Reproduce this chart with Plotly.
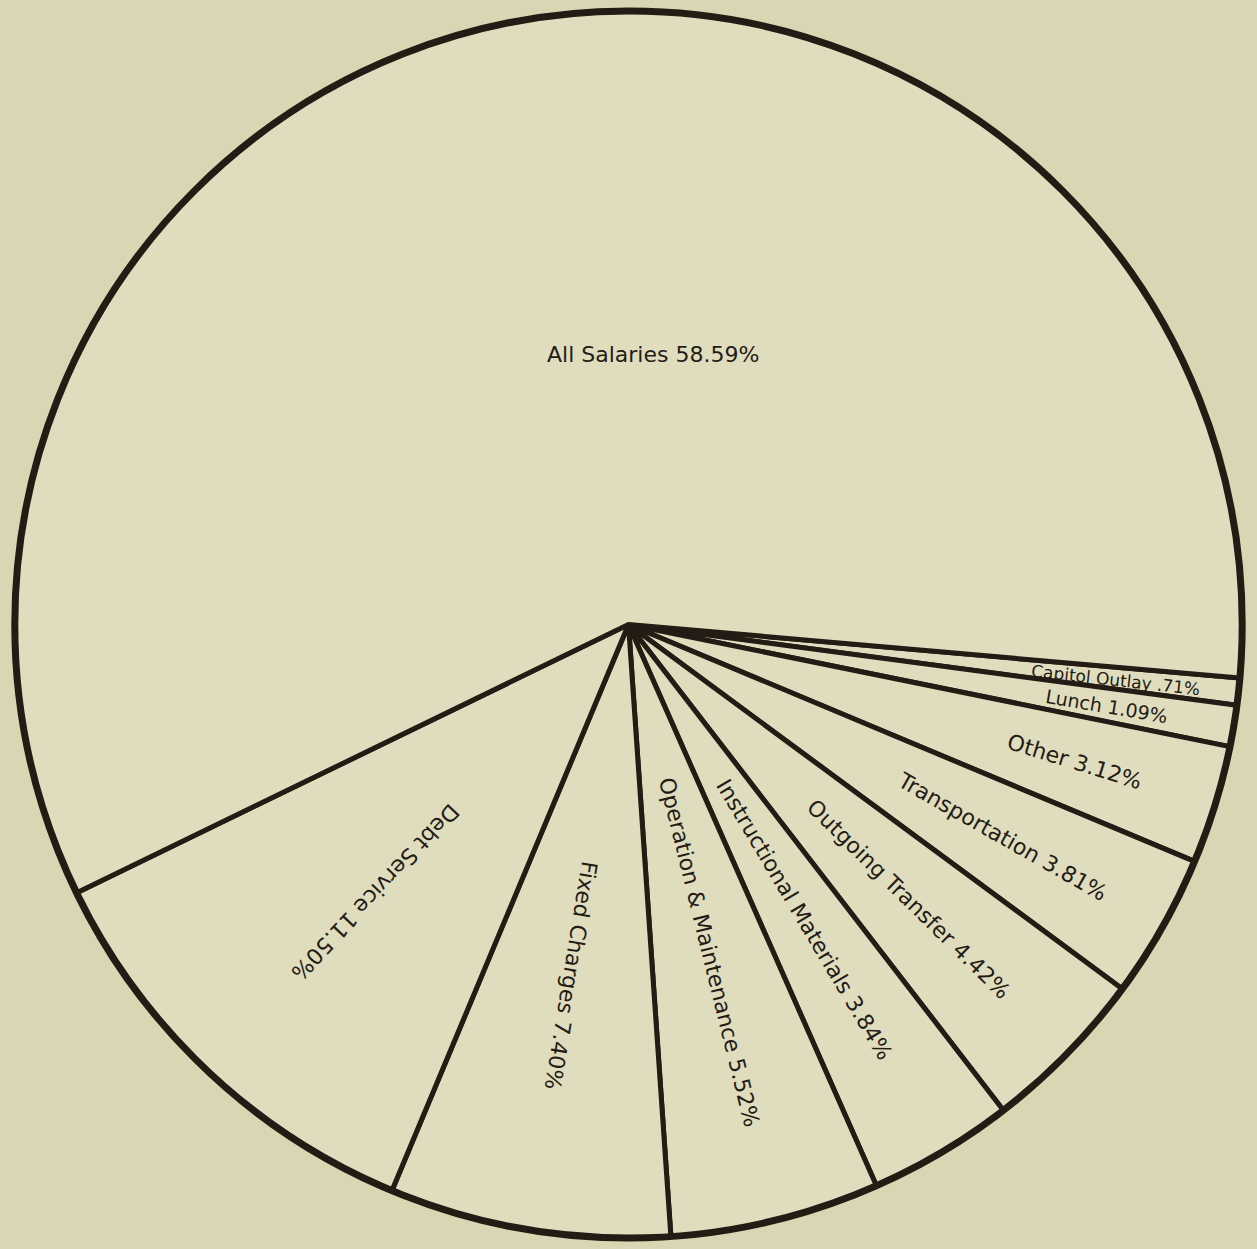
import math
import plotly.graph_objects as go

labels = ["Capitol Outlay", "Lunch", "Other", "Transportation", "Outgoing Transfer",
          "Instructional Materials", "Operation & Maintenance", "Fixed Charges",
          "Debt Service", "All Salaries"]
values = [0.71, 1.09, 3.12, 3.81, 4.42, 3.84, 5.52, 7.40, 11.50, 58.59]
pct_text = [".71%", "1.09%", "3.12%", "3.81%", "4.42%", "3.84%", "5.52%", "7.40%", "11.50%", "58.59%"]

W, H = 1257, 1249
M = dict(l=15, r=15, t=3, b=3)
ROT = 95
bg = "#d9d7b3"
fill = "#dfddbd"
ink = "#241b15"
FONT = "DejaVu Sans, Liberation Sans, Arial, sans-serif"

fig = go.Figure()
fig.add_trace(go.Pie(
    labels=labels, values=values, sort=False, direction="clockwise", rotation=ROT,
    textinfo="none",
    marker=dict(colors=[fill] * len(values), line=dict(color=ink, width=5)),
    showlegend=False, hoverinfo="label+percent",
))
# heavier outer rim
fig.add_trace(go.Pie(
    labels=["rim"], values=[1], sort=False, textinfo="none",
    marker=dict(colors=["rgba(0,0,0,0)"], line=dict(color=ink, width=7)),
    showlegend=False, hoverinfo="skip",
))

# label placement derived from the slice angles
pw = W - M["l"] - M["r"]
ph = H - M["t"] - M["b"]
R = min(pw, ph) / 2
total = sum(values)
start = 90 - ROT  # math angle (deg) of the first slice edge
cum = 0.0
radii = [0.80, 0.79, 0.76, 0.70, 0.64, 0.56, 0.55, 0.58, 0.60, 0.44]
sizes = [17, 19, 22, 22, 22, 22, 22, 22, 22, 22]
fracs = [0.57, 0.55, 0.5, 0.5, 0.5, 0.5, 0.5, 0.5, 0.5, 0.5]
for lab, v, p, rr, fs, fr in zip(labels, values, pct_text, radii, sizes, fracs):
    a0 = start - cum / total * 360
    cum += v
    a1 = start - cum / total * 360
    mid = a0 + fr * (a1 - a0)
    ang = math.radians(mid)
    if lab == "All Salaries":
        x = 0.5 + 0.02
        y = 0.5 + rr * R / ph
        tangle = 0
    else:
        x = 0.5 + rr * R * math.cos(ang) / pw
        y = 0.5 + rr * R * math.sin(ang) / ph
        tangle = -(a0 + a1) / 2
        while tangle > 180:
            tangle -= 360
        while tangle <= -180:
            tangle += 360
    fig.add_annotation(
        x=x, y=y, xref="paper", yref="paper", text=f"{lab} {p}",
        showarrow=False, textangle=tangle,
        font=dict(family=FONT, size=fs, color=ink),
        xanchor="center", yanchor="middle",
    )

fig.update_layout(
    width=W, height=H,
    paper_bgcolor=bg, plot_bgcolor=bg,
    margin=M,
)
fig.write_html("out.html", config={"displayModeBar": False},
               post_script="document.body.style.margin='0';")
